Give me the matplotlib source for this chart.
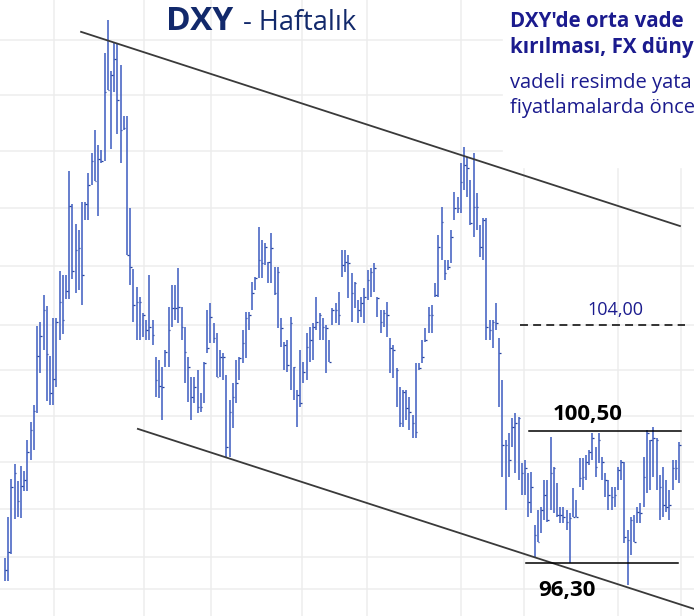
import matplotlib
matplotlib.use("Agg")
import numpy as np
import matplotlib.pyplot as plt
from matplotlib.patches import Rectangle
from matplotlib.ticker import FixedLocator, NullLocator, NullFormatter

# haftalik DXY barlari
highs = [
    96.47, 97.76, 98.96, 99.44, 98.90, 99.38, 99.22, 100.21, 100.80, 101.35,
    103.97, 104.10, 105.01, 104.64, 102.97, 104.23, 104.23, 105.84, 105.70, 105.70,
    109.29, 108.14, 107.44, 107.24, 108.21, 108.21, 109.22, 109.93, 110.75, 110.22,
    110.04, 113.54, 114.75, 112.88, 113.91, 113.91, 113.10, 111.25, 111.25, 108.00,
    105.90, 105.28, 104.94, 104.40, 104.17, 105.70, 104.17, 102.94, 102.84, 102.60,
    103.16, 104.60, 105.35, 105.35, 105.94, 104.60, 103.93, 102.94, 102.27, 102.27,
    102.50, 101.74, 102.77, 104.50, 104.74, 104.07, 103.73, 103.16, 103.06, 102.34,
    101.51, 102.07, 102.84, 102.94, 103.83, 104.43, 104.43, 105.45, 105.62, 107.34,
    106.89, 106.79, 106.14, 107.13, 105.97, 105.97, 104.23, 103.43, 103.50, 104.27,
    102.60, 101.84, 103.16, 102.77, 103.73, 103.93, 104.07, 104.94, 104.40, 104.23,
    104.00, 103.50, 104.57, 104.74, 105.11, 106.55, 106.55, 106.38, 105.77, 105.45,
    104.84, 104.94, 105.25, 105.87, 105.94, 106.10, 104.94, 104.50, 104.50, 104.77,
    103.57, 103.33, 102.57, 101.94, 101.84, 101.84, 101.61, 101.02, 102.74, 102.74,
    103.50, 103.90, 104.60, 104.67, 105.42, 107.06, 108.03, 106.20, 106.20, 107.24,
    108.56, 108.38, 109.58, 110.15, 109.79, 108.98, 109.93, 108.52, 107.41, 107.65,
    107.65, 104.17, 104.17, 104.74, 103.57, 102.17, 100.21, 100.44, 100.93, 101.09,
    100.96, 99.47, 99.57, 99.15, 99.18, 97.50, 97.98, 98.07, 98.93, 98.93,
    100.31, 99.34, 98.83, 98.07, 98.07, 97.98, 97.88, 98.67, 98.29, 99.63,
    99.63, 99.73, 99.89, 100.44, 99.99, 100.44, 99.67, 99.15, 98.93, 98.71,
    98.71, 99.34, 99.57, 99.50, 97.34, 97.76, 97.82, 98.07, 98.20, 99.67,
    100.54, 100.21, 100.64, 100.28, 99.09, 99.34, 98.93, 98.61, 99.57, 99.57,
    100.15,
]
lows = [
    95.76, 95.76, 96.60, 97.69, 97.76, 97.72, 98.58, 98.58, 99.57, 99.89,
    101.09, 102.40, 103.16, 101.48, 101.35, 101.35, 101.94, 103.50, 103.70, 104.87,
    104.87, 105.56, 105.08, 105.18, 104.67, 107.58, 107.58, 108.80, 108.94, 107.72,
    109.58, 109.65, 112.19, 110.08, 112.12, 110.61, 109.58, 110.75, 106.38, 105.35,
    104.10, 103.50, 103.50, 103.60, 103.50, 103.50, 103.33, 101.61, 101.58, 100.86,
    102.60, 102.60, 103.93, 104.17, 104.07, 103.50, 102.07, 101.45, 100.86, 101.41,
    101.09, 101.12, 101.41, 103.06, 103.40, 103.40, 102.27, 102.27, 102.17, 99.67,
    99.67, 100.60, 101.41, 102.17, 102.74, 102.90, 103.83, 104.50, 105.18, 105.59,
    105.59, 106.04, 105.42, 105.42, 105.01, 103.90, 103.26, 102.50, 102.43, 101.84,
    101.51, 100.64, 101.28, 102.07, 102.17, 102.77, 102.84, 103.83, 103.50, 103.50,
    102.40, 102.77, 104.00, 104.07, 104.00, 105.62, 105.80, 104.91, 104.10, 104.57,
    104.07, 104.27, 104.07, 104.84, 104.94, 105.11, 104.27, 103.73, 103.93, 103.60,
    102.40, 102.24, 101.28, 100.64, 100.64, 100.86, 100.54, 100.28, 100.28, 102.50,
    102.74, 103.43, 103.73, 103.73, 104.94, 104.94, 106.20, 105.52, 105.87, 106.10,
    107.58, 107.83, 107.83, 108.63, 108.38, 107.41, 107.00, 107.24, 106.31, 106.20,
    103.50, 103.50, 103.23, 103.83, 101.28, 99.03, 97.98, 99.03, 99.99, 99.15,
    98.93, 98.45, 98.45, 97.76, 97.88, 96.50, 96.97, 97.25, 97.66, 97.60,
    97.98, 97.88, 97.76, 97.56, 97.56, 97.34, 96.32, 97.76, 97.76, 98.71,
    98.61, 98.93, 99.41, 99.57, 99.03, 99.47, 98.93, 98.39, 97.98, 97.98,
    98.07, 98.61, 98.93, 96.94, 95.63, 96.56, 96.97, 97.56, 97.56, 98.07,
    98.52, 98.61, 99.03, 98.61, 97.66, 97.76, 97.91, 97.66, 98.61, 98.93,
    98.83,
]
closes = [
    96.10, 96.66, 98.71, 99.15, 98.26, 98.74, 98.93, 99.83, 100.54, 101.16,
    102.97, 103.63, 104.50, 103.03, 101.74, 102.20, 104.10, 104.77, 104.17, 105.15,
    108.07, 105.84, 106.55, 106.62, 105.70, 108.14, 108.80, 109.65, 108.94, 109.72,
    109.65, 112.12, 112.19, 112.74, 113.32, 111.83, 110.75, 110.82, 106.38, 105.97,
    104.67, 104.77, 104.77, 104.33, 103.83, 103.93, 103.67, 102.17, 101.97, 101.94,
    103.09, 103.83, 104.57, 104.57, 104.60, 103.93, 103.09, 102.60, 101.61, 101.94,
    101.28, 101.28, 102.74, 103.23, 104.27, 103.57, 102.27, 102.94, 102.94, 99.99,
    101.12, 101.61, 102.07, 102.90, 103.40, 104.23, 104.33, 105.08, 105.59, 106.20,
    106.10, 106.65, 106.14, 106.62, 105.08, 105.80, 103.90, 103.33, 102.67, 104.07,
    102.60, 101.68, 101.41, 102.43, 103.26, 103.50, 103.93, 104.10, 104.33, 103.93,
    103.90, 102.77, 104.50, 104.50, 104.33, 106.04, 106.14, 106.10, 105.08, 105.42,
    104.50, 104.74, 104.94, 105.52, 105.80, 105.94, 104.91, 104.10, 104.40, 104.33,
    103.23, 103.16, 102.50, 100.77, 101.78, 101.25, 101.12, 100.77, 100.47, 102.57,
    102.94, 103.50, 104.33, 104.33, 105.01, 106.65, 107.51, 105.77, 105.97, 107.00,
    108.00, 108.00, 108.91, 109.51, 109.40, 107.48, 108.03, 108.03, 106.65, 107.58,
    103.93, 103.83, 104.10, 104.07, 103.06, 100.05, 100.05, 99.57, 100.64, 100.77,
    100.93, 99.15, 99.31, 98.23, 98.71, 97.18, 96.97, 97.98, 98.45, 97.66,
    99.15, 99.31, 97.82, 97.82, 97.76, 97.60, 97.72, 97.76, 97.76, 98.99,
    99.03, 99.50, 99.83, 100.28, 99.34, 100.21, 99.50, 98.93, 98.45, 98.39,
    98.45, 99.25, 99.50, 97.12, 97.03, 97.66, 96.97, 97.91, 97.88, 99.03,
    100.44, 100.21, 100.28, 100.21, 98.71, 98.14, 98.07, 98.14, 99.31, 99.31,
    100.05,
]

# kanal cizgileri (hafta, fiyat)
upper_line_x = [23.7, 210.3]
upper_line_y = [114.31, 107.37]
lower_line_x = [41.4, 214.6]
lower_line_y = [100.57, 94.90]

# yatay seviyeler
levels = [104.00, 100.50, 96.30]
level_labels = ["104,00", "100,50", "96,30"]
level_x = [(160.4, 211.8), (163.2, 210.6), (162.3, 209.7)]

grid_prices = [95.5, 96.5, 98, 99.5, 101, 102.5, 104, 106, 108, 110, 112, 114]
grid_weeks = [15.3, 43.3, 64.2, 92.5, 112.8, 142.1, 161.7, 191.0, 210.6]

# yorum kutusunda gorunen satirlar
note_lines = ["DXY'de orta vade", "kırılması, FX düny",
              "vadeli resimde yata", "fiyatlamalarda önce"]

BAR = "#4462C2"
NAVY = "#12296B"
TXT = "#1B1B8E"

fig = plt.figure(figsize=(6.94, 6.16), dpi=100)
ax = fig.add_axes([0, 0, 1, 1])
ax.set_yscale("log")

weeks = np.arange(len(closes))
ax.vlines(weeks, lows, highs, color=BAR, lw=1.15, zorder=2)
ax.hlines(closes, weeks, weeks + 0.5, color="#27439E", lw=0.9, zorder=2)

ax.plot(upper_line_x, upper_line_y, color="#3a3a3a", lw=1.3, zorder=3)
ax.plot(lower_line_x, lower_line_y, color="#3a3a3a", lw=1.3, zorder=3)

ax.plot(level_x[0], [levels[0]] * 2, color="black", lw=1.1, dashes=(5.2, 3.4), zorder=3)
ax.plot(level_x[1], [levels[1]] * 2, color="black", lw=1.1, zorder=3)
ax.plot(level_x[2], [levels[2]] * 2, color="black", lw=1.1, zorder=3)

ax.text(190.3, 104.5, level_labels[0], color=TXT, fontsize=13,
        ha="center", va="center", family="Open Sans")
ax.text(181.6, 101.05, level_labels[1], color="black", fontsize=16, fontweight="bold",
        ha="center", va="center", family="Open Sans")
ax.text(175.1, 95.45, level_labels[2], color="black", fontsize=16, fontweight="bold",
        ha="center", va="center", family="Open Sans")

ax.set_xlim(-1.56, 214.67)
ax.set_ylim(94.68, 115.49)
ax.xaxis.set_major_locator(FixedLocator(grid_weeks))
ax.yaxis.set_major_locator(FixedLocator(grid_prices))
ax.yaxis.set_minor_locator(NullLocator())
ax.yaxis.set_minor_formatter(NullFormatter())
ax.tick_params(which="both", length=0, labelbottom=False, labelleft=False)
ax.set_axisbelow(True)
ax.grid(True, color="#EDEDED", lw=1.1)
for s in ax.spines.values():
    s.set_visible(False)

# sag ustteki yorum kutusu
ax.add_patch(Rectangle((0.725, 0.729), 0.3, 0.3, transform=ax.transAxes,
                       color="white", zorder=1))

fig.text(166 / 694, 1 - 30 / 616, "DXY", fontsize=24, fontweight="bold",
         color=NAVY, va="baseline", family="Open Sans")
fig.text(243 / 694, 1 - 30 / 616, "- Haftalık", fontsize=19.5,
         color=NAVY, va="baseline", family="Open Sans")

fig.text(510 / 694, 1 - 27 / 616, note_lines[0], fontsize=14.8, fontweight="bold",
         color=TXT, va="baseline", family="Open Sans")
fig.text(510 / 694, 1 - 53 / 616, note_lines[1], fontsize=14.8, fontweight="bold",
         color=TXT, va="baseline", family="Open Sans")
fig.text(510 / 694, 1 - 88 / 616, note_lines[2], fontsize=14.5,
         color=TXT, va="baseline", family="Open Sans")
fig.text(510 / 694, 1 - 113 / 616, note_lines[3], fontsize=14.5,
         color=TXT, va="baseline", family="Open Sans")

fig.savefig("out.png", dpi=100)
